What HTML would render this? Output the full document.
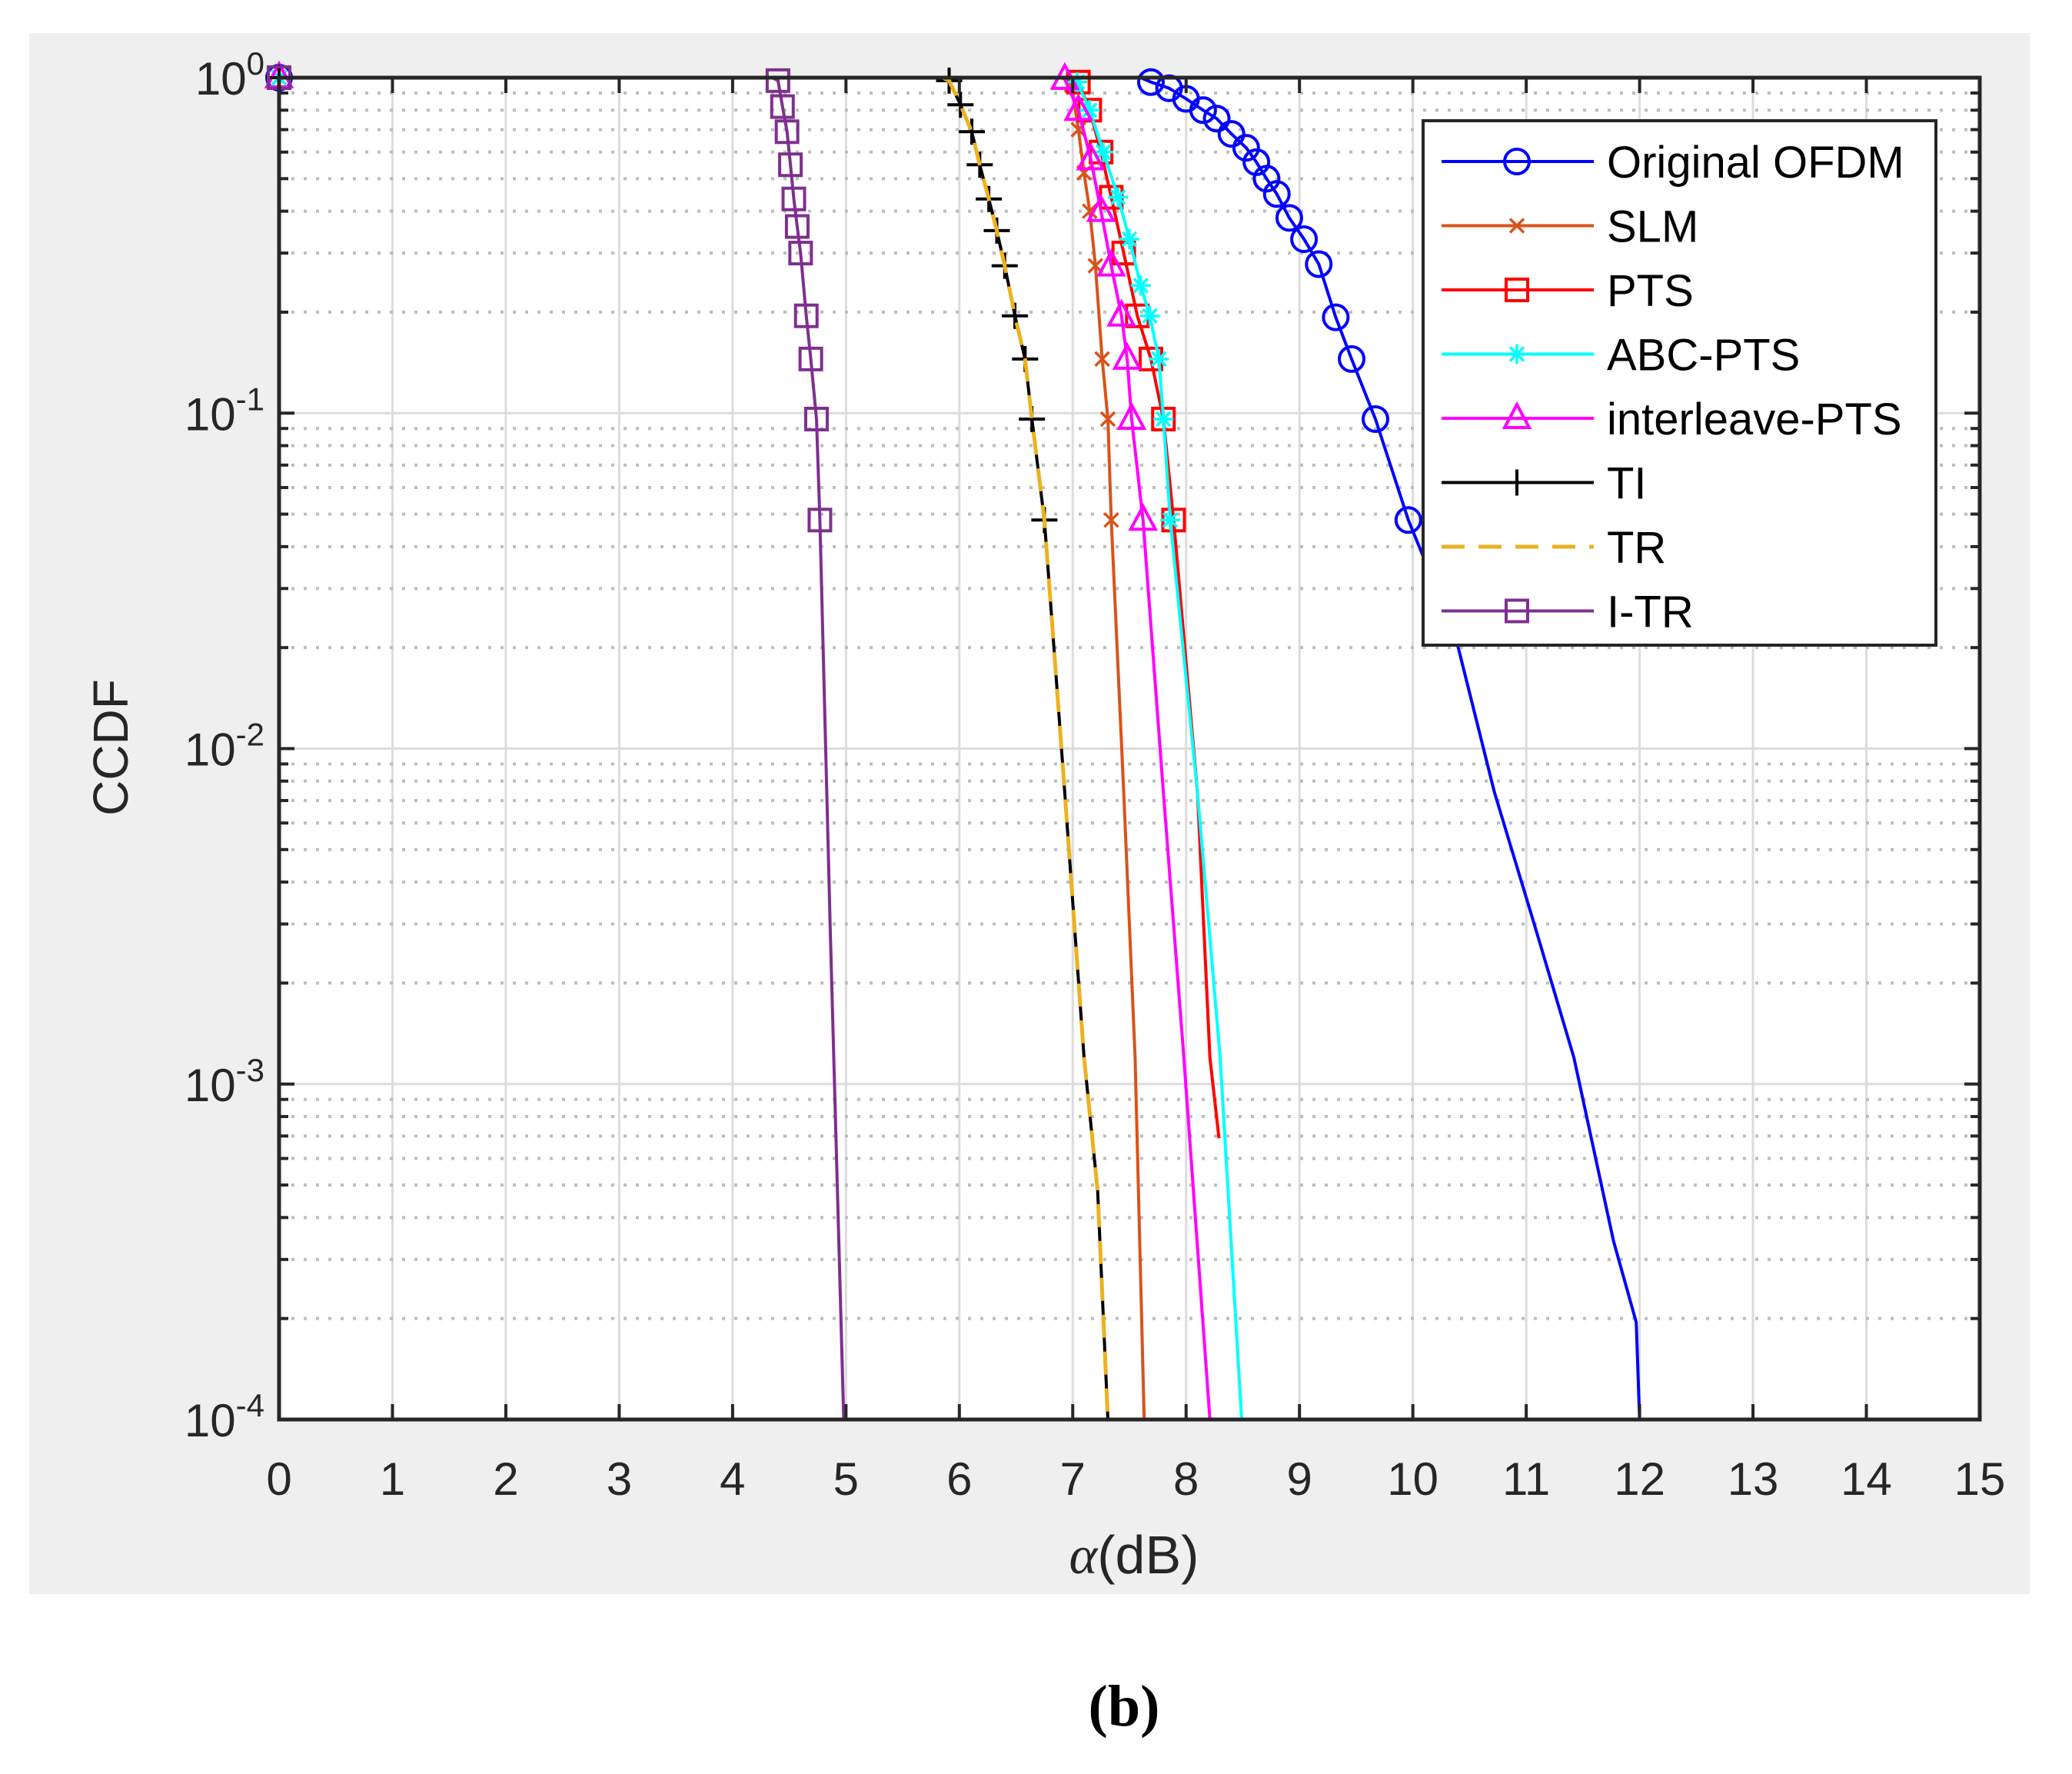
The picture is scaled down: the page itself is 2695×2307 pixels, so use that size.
<!DOCTYPE html>
<html><head><meta charset="utf-8"><style>
html,body{margin:0;padding:0;background:#fff}
svg text{font-family:"Liberation Sans",sans-serif}
</style></head><body>
<svg id="c" width="2695" height="2302" xmlns="http://www.w3.org/2000/svg">
<rect x="38" y="43" width="2602" height="2030" fill="#efefef"/>
<rect x="363" y="101" width="2212" height="1745" fill="#fff"/>
<g id="grid"></g><g id="series"></g><g id="axes"></g><g id="legend"></g>
<text x="1475" y="2046" font-size="70" text-anchor="middle" fill="#262626"><tspan font-family="Liberation Serif" font-style="italic">α</tspan>(dB)</text>
<text transform="translate(166,972) rotate(-90)" font-size="64" text-anchor="middle" fill="#262626">CCDF</text>
<text x="1462" y="2244" font-size="76" text-anchor="middle" font-weight="bold" fill="#000" style="font-family:'Liberation Serif',serif">(b)</text>
</svg>
<script>
const xTicks=[0,1,2,3,4,5,6,7,8,9,10,11,12,13,14,15];
const yDecades=[0,-1,-2,-3,-4];
const names=["Original OFDM","SLM","PTS","ABC-PTS","interleave-PTS","TI","TR","I-TR"];
const colors=["#0000ff","#d95319","#ff0000","#00ffff","#ff00ff","#000000","#edb120","#7e2f8e"];
const markers=["o","x","s","*","^","+","none","s"];
const dashes=["","","","","","","30,18",""];
const xOFDM=[0,7.6,7.69,7.85,8.0,8.15,8.27,8.4,8.53,8.62,8.71,8.8,8.91,9.04,9.17,9.32,9.46,9.67,9.96,10.37,10.72,11.07,11.42,11.77,11.97,12.0];
const yOFDM=[1,1,0.97,0.93,0.865,0.8,0.755,0.68,0.618,0.56,0.50,0.45,0.382,0.33,0.278,0.193,0.145,0.096,0.048,0.022,0.0074,0.003,0.0012,0.00034,0.000195,0.0001];
const xSLM=[0,6.95,6.99,7.05,7.1,7.15,7.2,7.26,7.31,7.34,7.45,7.55,7.63];
const ySLM=[1,1,0.95,0.7,0.52,0.4,0.275,0.145,0.096,0.048,0.0074,0.0012,0.0001];
const xPTS=[0,7.0,7.05,7.15,7.25,7.34,7.45,7.57,7.69,7.8,7.89,8.1,8.21,8.29];
const yPTS=[1,1,0.97,0.8,0.6,0.44,0.3,0.195,0.145,0.096,0.048,0.0074,0.0012,0.00069];
const xABC=[0,7.0,7.04,7.15,7.27,7.4,7.5,7.6,7.68,7.76,7.8,7.86,8.1,8.3,8.49];
const yABC=[1,1,0.97,0.8,0.6,0.44,0.33,0.24,0.195,0.145,0.096,0.048,0.0074,0.0012,0.0001];
const xIPTS=[0,6.9,6.93,7.05,7.16,7.25,7.34,7.43,7.48,7.52,7.62,7.8,7.98,8.21];
const yIPTS=[1,1,0.99,0.8,0.57,0.4,0.275,0.195,0.145,0.096,0.048,0.0074,0.0012,0.0001];
const xTI=[0,5.85,5.91,6.01,6.11,6.18,6.26,6.33,6.4,6.49,6.58,6.64,6.75,6.93,7.1,7.22,7.31];
const yTI=[1,1,0.98,0.83,0.69,0.55,0.435,0.35,0.275,0.195,0.145,0.096,0.048,0.0074,0.0012,0.00048,0.0001];
const xITR=[0,4.35,4.4,4.44,4.48,4.51,4.54,4.57,4.6,4.65,4.69,4.74,4.77,4.86,4.98];
const yITR=[1,1,0.98,0.82,0.69,0.55,0.435,0.36,0.3,0.195,0.145,0.096,0.048,0.003,0.0001];
const seriesX=[xOFDM,xSLM,xPTS,xABC,xIPTS,xTI,xTI,xITR];
const seriesY=[yOFDM,ySLM,yPTS,yABC,yIPTS,yTI,yTI,yITR];

const L=363,R=2575,T=101,B=1846;
const sx=v=>L+(v-0)/(15-0)*(R-L);
const sy=v=>T+(0-Math.log10(v))/4*(B-T);
const NS="http://www.w3.org/2000/svg";
function mk(tag,attrs,parent){const e=document.createElementNS(NS,tag);for(const k in attrs)e.setAttribute(k,attrs[k]);parent.appendChild(e);return e;}
const grid=document.getElementById('grid'),axes=document.getElementById('axes'),ser=document.getElementById('series'),leg=document.getElementById('legend');
xTicks.forEach(t=>{const l=mk('line',{x1:sx(t),x2:sx(t),y1:T,y2:B,stroke:'#dcdcdc','stroke-width':3},grid);
});
for(let d=0;d>-4;d--){for(let m=1;m<10;m++){const v=m*Math.pow(10,d-1);const y=sy(v);
const l=mk('line',{x1:L,x2:R,y1:y,y2:y,stroke:m===1?'#dcdcdc':'#bdbdbd','stroke-width':m===1?3:4,'stroke-dasharray':m===1?'':'4,12'},grid);

if(m>1){mk('line',{x1:L,x2:L+12,y1:y,y2:y,stroke:'#262626','stroke-width':4},axes);mk('line',{x1:R,x2:R-12,y1:y,y2:y,stroke:'#262626','stroke-width':4},axes);}}}
function marker(type,x,y,c,g){const s=16;
if(type==='o')mk('circle',{cx:x,cy:y,r:s,fill:'none',stroke:c,'stroke-width':4},g);
else if(type==='s')mk('rect',{x:x-s+2,y:y-s+2,width:2*s-4,height:2*s-4,fill:'none',stroke:c,'stroke-width':4},g);
else if(type==='^')mk('polygon',{points:`${x},${y-s-2} ${x-s},${y+s-4} ${x+s},${y+s-4}`,fill:'none',stroke:c,'stroke-width':4},g);
else if(type==='x'){mk('path',{d:`M${x-9},${y-9}L${x+9},${y+9}M${x-9},${y+9}L${x+9},${y-9}`,stroke:c,'stroke-width':3.5},g);}
else if(type==='*'){mk('path',{d:`M${x-13},${y}L${x+13},${y}M${x},${y-13}L${x},${y+13}M${x-9},${y-9}L${x+9},${y+9}M${x-9},${y+9}L${x+9},${y-9}`,stroke:c,'stroke-width':3.5},g);}
else if(type==='+'){mk('path',{d:`M${x-17},${y}L${x+17},${y}M${x},${y-17}L${x},${y+17}`,stroke:c,'stroke-width':4},g);}}
names.forEach((n,i)=>{const g=mk('g',{},ser);


const xs=seriesX[i],ys=seriesY[i];
const d=xs.map((x,j)=>(j?'L':'M')+sx(x).toFixed(1)+','+sy(ys[j]).toFixed(1)).join('');
mk('path',{d:d,fill:'none',stroke:colors[i],'stroke-width':i===6?5:4,'stroke-dasharray':dashes[i]},g);
if(markers[i]!=='none')xs.forEach((x,j)=>{if(ys[j]>=0.045&&(j===0||j>=2))marker(markers[i],sx(x),sy(ys[j]),colors[i],g);});});
const box=mk('rect',{x:L,y:T,width:R-L,height:B-T,fill:'none',stroke:'#262626','stroke-width':5},axes);

xTicks.forEach(t=>{mk('line',{x1:sx(t),x2:sx(t),y1:B,y2:B-20,stroke:'#262626','stroke-width':4},axes);mk('line',{x1:sx(t),x2:sx(t),y1:T,y2:T+20,stroke:'#262626','stroke-width':4},axes);
const tx=mk('text',{x:sx(t),y:1944,'font-size':60,'text-anchor':'middle',fill:'#262626'},axes);tx.textContent=t;
});
yDecades.forEach(d=>{const y=sy(Math.pow(10,d));
mk('line',{x1:L,x2:L+20,y1:y,y2:y,stroke:'#262626','stroke-width':4},axes);mk('line',{x1:R,x2:R-20,y1:y,y2:y,stroke:'#262626','stroke-width':4},axes);
const tx=mk('text',{x:344,y:y+22,'font-size':60,'text-anchor':'end',fill:'#262626'},axes);

const a=document.createElementNS(NS,'tspan');a.textContent='10';tx.appendChild(a);
const b=document.createElementNS(NS,'tspan');b.setAttribute('dy','-26');b.setAttribute('font-size','42');b.textContent=String(d);tx.appendChild(b);});
const lb=mk('rect',{x:1851,y:157,width:667,height:682,fill:'#fff',stroke:'#262626','stroke-width':4},leg);

names.forEach((n,i)=>{const y=210+i*83.5;const g=mk('g',{},leg);


mk('line',{x1:1875,x2:2073,y1:y,y2:y,stroke:colors[i],'stroke-width':i===6?5:4,'stroke-dasharray':dashes[i]},g);
if(markers[i]!=='none')marker(markers[i],1973,y,colors[i],g);
const t=mk('text',{x:2090,y:y+21,'font-size':58,fill:'#000'},g);t.textContent=n;});
</script>
</body></html>
